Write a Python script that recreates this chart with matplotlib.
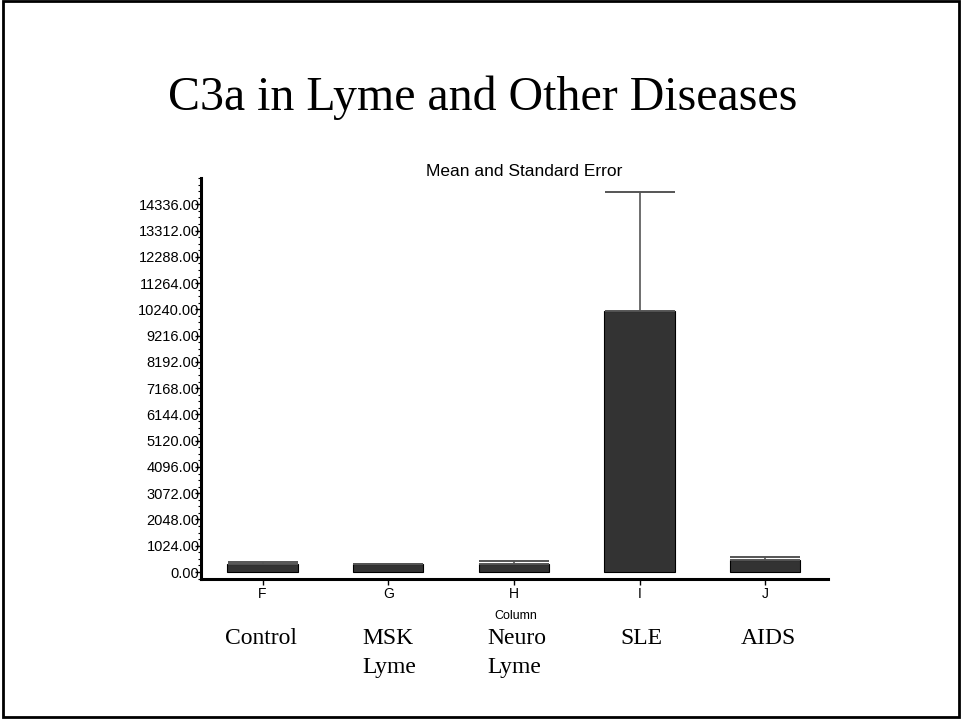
import matplotlib
matplotlib.use("Agg")
import matplotlib.pyplot as plt
from matplotlib.patches import Rectangle
from matplotlib.ticker import MultipleLocator
import numpy as np

# Data
columns = ["F", "G", "H", "I", "J"]
groups = ["Control", "MSK\nLyme", "Neuro\nLyme", "SLE", "AIDS"]
means = [330, 310, 310, 10160, 465]
se = [45, 10, 110, 4670, 130]
ytick_values = list(range(0, 14337, 1024))

W, H = 961, 719
fig = plt.figure(figsize=(W / 100, H / 100), dpi=100)
fig.patch.set_facecolor("white")

def fx(px):
    return px / W

def fy(py):
    return 1 - py / H

ax = fig.add_axes([fx(201), fy(579), fx(828) - fx(201), fy(178) - fy(579)])
x = np.arange(len(columns))
ax.bar(x, means, width=0.56, color="#333333", edgecolor="black", linewidth=0.8, zorder=2)
ax.errorbar(x, means, yerr=[np.zeros(len(se)), se], fmt="none", ecolor="#555555",
            elinewidth=1.2, capsize=25, capthick=1.4, zorder=3)

ax.set_xlim(-0.49, 4.5)
ax.set_ylim(-272, 15360)
ax.set_yticks(ytick_values)
ax.set_yticklabels([f"{v:.2f}" for v in ytick_values], fontfamily="Liberation Sans", fontsize=10.5)
ax.yaxis.set_minor_locator(MultipleLocator(256))
ax.set_xticks(x)
ax.set_xticklabels(columns, fontfamily="Liberation Sans", fontsize=10)

for s in ["top", "right"]:
    ax.spines[s].set_visible(False)
for s in ["left", "bottom"]:
    ax.spines[s].set_linewidth(2.2)

ax.tick_params(axis="y", which="major", direction="out", length=4, width=1, pad=-3)
ax.tick_params(axis="y", which="minor", direction="out", length=2.5, width=0.8)
ax.tick_params(axis="x", which="major", direction="out", length=4, width=1, pad=2)

# Titles
fig.text(fx(483), fy(110), "C3a in Lyme and Other Diseases", ha="center", va="baseline",
         fontfamily="Liberation Serif", fontsize=34.5)
fig.text(fx(524), fy(171), "Mean and Standard Error", ha="center", va="center",
         fontfamily="Liberation Sans", fontsize=12.5)
fig.text(fx(516), fy(616), "Column", ha="center", va="center",
         fontfamily="Liberation Sans", fontsize=9)

# Group labels below
group_centers_px = [261, 389, 517, 641, 768]
for cx, g in zip(group_centers_px, groups):
    fig.text(fx(cx), fy(628), g, ha="center", va="top", multialignment="left",
             fontfamily="Liberation Serif", fontsize=17, linespacing=1.5)

# Figure border
fig.patches.append(Rectangle((fx(3), fy(717)), fx(956), fy(1) - fy(717), transform=fig.transFigure,
                             fill=False, edgecolor="black", linewidth=2))

fig.savefig("out.png", dpi=100)
